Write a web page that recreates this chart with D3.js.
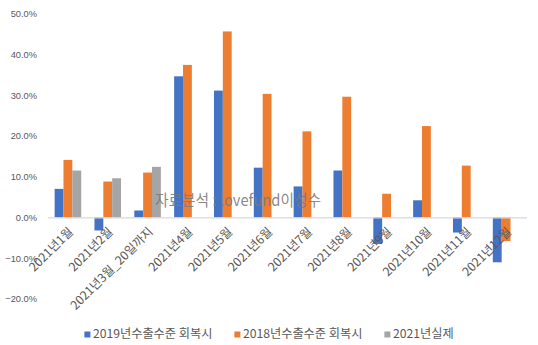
<!DOCTYPE html>
<html><head><meta charset="utf-8">
<script src="https://cdn.jsdelivr.net/npm/d3@7"></script>
<style>html,body{margin:0;padding:0;background:#fff;}</style>
</head><body>
<svg id="c" width="538" height="345"></svg>
<script>
const categories = ["2021년1월","2021년2월","2021년3월_20일까지","2021년4월","2021년5월","2021년6월","2021년7월","2021년8월","2021년9월","2021년10월","2021년11월","2021년12월"];
const seriesNames = ["2019년수출수준 회복시","2018년수출수준 회복시","2021년실제"];
const s2019 = [0.070,-0.032,0.017,0.346,0.311,0.122,0.076,0.115,-0.065,0.042,-0.037,-0.110];
const s2018 = [0.141,0.088,0.110,0.374,0.456,0.303,0.211,0.296,0.058,0.224,0.127,-0.058];
const s2021 = [0.115,0.096,0.124,null,null,null,null,null,null,null,null,null];
const yTicks = [0.5,0.4,0.3,0.2,0.1,0,-0.1,-0.2];
const colors = ["#4472C4","#ED7D31","#A5A5A5"];
const watermark = "자료분석 : lovefund이성수";

const svg = d3.select("#c");
const KR = "'Noto Sans CJK KR','Noto Sans',sans-serif";
const x = d3.scaleBand().domain(categories).range([48,526]);
const inner = d3.scaleBand().domain([0,1,2]).range([0,x.bandwidth()]).paddingInner(0).paddingOuter(0.75);
const y = d3.scaleLinear().domain([-0.2,0.5]).range([299,13.5]);
const fmt = d3.format(".1%");

// y axis labels
const yAxis = d3.axisLeft(y).tickValues(yTicks).tickFormat(fmt).tickSize(0).tickPadding(0);
const ya = svg.append("g").attr("transform","translate(37,0)").call(yAxis);
ya.select(".domain").remove();
ya.selectAll("text").attr("fill","#595959").style("font-family","'Liberation Sans',Arial,sans-serif").style("font-size","9.3px");

const series = [s2019,s2018,s2021];
series.forEach((vals,si)=>{
  svg.append("g").selectAll("rect").data(categories.map((c,i)=>({c,v:vals[i]})).filter(d=>d.v!=null))
    .enter().append("rect")
    .attr("x",d=>x(d.c)+inner(si))
    .attr("width",inner.bandwidth())
    .attr("y",d=>Math.min(y(d.v),y(0)))
    .attr("height",d=>Math.abs(y(d.v)-y(0)))
    .attr("fill",colors[si]);
});

// x axis line
const xAxis = d3.axisBottom(x).tickSize(0).tickPadding(0);
const xa = svg.append("g").attr("transform",`translate(0,${y(0)})`).call(xAxis);
xa.select(".domain").attr("stroke","#d9d9d9").attr("stroke-width",1.3).attr("d",`M${x.range()[0]},0.5H${x.range()[1]+1}`);
xa.selectAll(".tick text")
  .attr("text-anchor","end")
  .attr("transform","translate(3,12) rotate(-45)")
  .attr("dy","0.35em").attr("y",0)
  .attr("fill","#595959").style("font-family",KR).style("font-size","12.2px");

// watermark
svg.append("text").attr("x",155).attr("y",206).text(watermark)
  .attr("fill","#7a7a7a").attr("fill-opacity",0.9)
  .style("font-family",KR).style("font-size","16px")
  .attr("textLength",166).attr("lengthAdjust","spacingAndGlyphs");

// legend
const lg = svg.append("g");
let lx = 0;
seriesNames.forEach((n,i)=>{
  const g = lg.append("g").attr("transform",`translate(${lx},0)`);
  g.append("rect").attr("x",0).attr("y",-6.5).attr("width",6).attr("height",6).attr("fill",colors[i]);
  const t = g.append("text").attr("x",8.5).attr("y",0).text(n).attr("fill","#595959")
    .style("font-family",KR).style("font-size","12.2px");
  lx += 8.5 + t.node().getComputedTextLength() + 22;
});
const total = lx - 22;
lg.attr("transform",`translate(${(538-total)/2},338)`);
</script>
</body></html>
